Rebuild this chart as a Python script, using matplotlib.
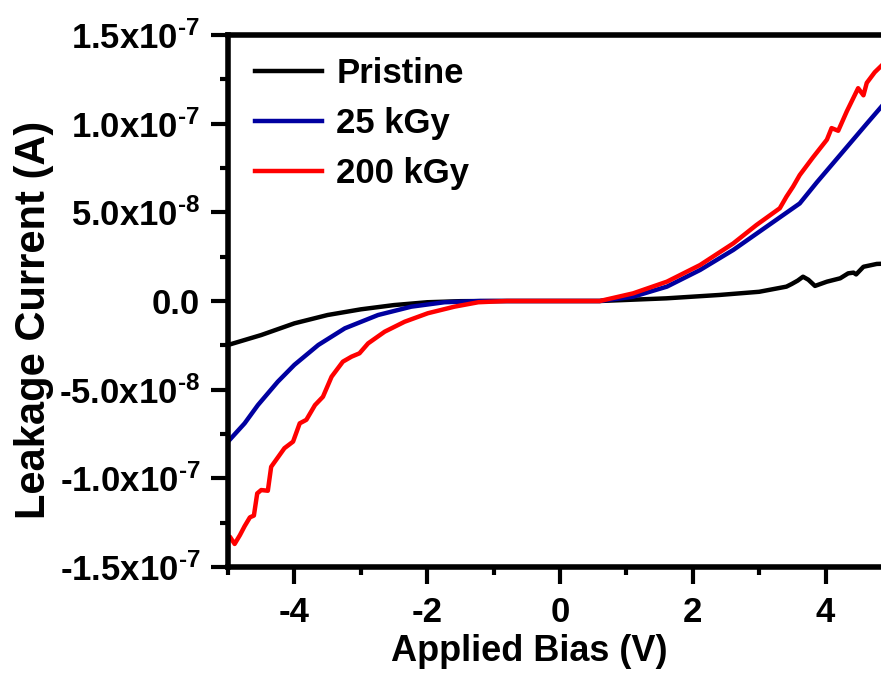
import numpy as np
import matplotlib
matplotlib.use('Agg')
import matplotlib.pyplot as plt
from matplotlib.ticker import MultipleLocator, FixedLocator, FixedFormatter

plt.rcParams['font.family'] = ['Liberation Sans', 'DejaVu Sans']
plt.rcParams['font.weight'] = 'bold'
plt.rcParams['mathtext.fontset'] = 'custom'
plt.rcParams['mathtext.rm'] = 'Liberation Sans:bold'
plt.rcParams['mathtext.bf'] = 'Liberation Sans:bold'
plt.rcParams['mathtext.default'] = 'bf'

# --- data (current in units of 1e-8 A) ---
v_pristine = [-5.0, -4.5, -4.0, -3.5, -3.0, -2.5, -2.0, -1.5, -1.0, 0.0, 0.6, 1.6,
              2.4, 3.0, 3.41, 3.49, 3.58, 3.66, 3.74, 3.84, 4.02, 4.22, 4.34, 4.42,
              4.46, 4.57, 4.77, 4.85]
i_pristine = [-2.48, -1.92, -1.26, -0.79, -0.47, -0.23, -0.07, -0.01, 0.0, 0.0, 0.0, 0.15,
              0.34, 0.52, 0.81, 0.96, 1.15, 1.37, 1.2, 0.85, 1.09, 1.28, 1.56, 1.6,
              1.5, 1.93, 2.09, 2.1]

v_25 = [-5.0, -4.75, -4.55, -4.25, -4.0, -3.64, -3.24, -2.74, -2.24, -1.74, -1.2, 0.0,
        0.6, 1.1, 1.61, 2.11, 2.61, 3.11, 3.61, 3.87, 4.12, 4.37, 4.62, 4.85]
i_25 = [-7.93, -6.9, -5.87, -4.55, -3.6, -2.48, -1.54, -0.79, -0.32, -0.07, 0.0, 0.0,
        0.0, 0.24, 0.81, 1.75, 2.88, 4.19, 5.5, 6.7, 7.8, 8.9, 10.0, 11.0]

v_200 = [-5.0, -4.97, -4.9, -4.82, -4.75, -4.67, -4.61, -4.56, -4.5, -4.4, -4.35, -4.27,
         -4.15, -4.02, -3.92, -3.82, -3.69, -3.57, -3.44, -3.27, -3.14, -3.02, -2.89,
         -2.64, -2.34, -1.99, -1.59, -1.23, -0.8, 0.0, 0.6, 1.1, 1.61, 2.11, 2.61, 2.96,
         3.31, 3.41, 3.51, 3.61, 3.81, 4.02, 4.09, 4.19, 4.32, 4.49, 4.57, 4.62, 4.74, 4.85]
i_200 = [-13.4, -13.3, -13.7, -13.2, -12.7, -12.2, -12.1, -10.85, -10.66, -10.7, -9.35, -8.93,
         -8.3, -7.93, -6.9, -6.7, -5.87, -5.4, -4.27, -3.42, -3.14, -2.95, -2.39,
         -1.73, -1.17, -0.69, -0.32, -0.07, 0.0, 0.0, 0.0, 0.43, 1.09, 2.03, 3.25, 4.29,
         5.23, 5.88, 6.45, 7.1, 8.1, 9.1, 9.75, 9.6, 10.7, 12.0, 11.6, 12.3, 12.9, 13.3]

series_names = ['Pristine', '25 kGy', '200 kGy']
series_colors = ['black', '#0000A0', '#FF0000']

ytick_vals = [-1.5e-7, -1.0e-7, -5.0e-8, 0.0, 5.0e-8, 1.0e-7, 1.5e-7]
ytick_labels = ['-1.5x10$^{\u20107}$', '-1.0x10$^{\u20107}$', '-5.0x10$^{\u20108}$', '0.0',
                '5.0x10$^{\u20108}$', '1.0x10$^{\u20107}$', '1.5x10$^{\u20107}$']
xtick_vals = [-4, -2, 0, 2, 4]
xtick_labels = ['-4', '-2', '0', '2', '4']

fig = plt.figure(figsize=(8.81, 6.77), dpi=100)
# axes runs past the right edge of the picture, like the cropped original
ax = fig.add_axes([228 / 881, 1 - 567 / 677, 664 / 881, 532 / 677])

for v, i, name, c in zip([v_pristine, v_25, v_200], [i_pristine, i_25, i_200],
                         series_names, series_colors):
    ax.plot(v, np.array(i) * 1e-8, color=c, lw=3.2, label=name)

ax.set_xlim(-5, 5)
ax.set_ylim(-1.5e-7, 1.5e-7)

ax.xaxis.set_major_locator(FixedLocator(xtick_vals))
ax.xaxis.set_major_formatter(FixedFormatter(xtick_labels))
ax.xaxis.set_minor_locator(FixedLocator([-5, -3, -1, 1, 3, 5]))
ax.yaxis.set_major_locator(FixedLocator(ytick_vals))
ax.yaxis.set_major_formatter(FixedFormatter(ytick_labels))
ax.yaxis.set_minor_locator(MultipleLocator(2.5e-8))

for s in ax.spines.values():
    s.set_linewidth(4)
ax.tick_params(which='major', direction='out', length=12, width=3)
ax.tick_params(which='minor', direction='out', length=6, width=3)
ax.tick_params(axis='y', which='major', labelsize=25, pad=8)
ax.tick_params(axis='x', which='major', labelsize=25, pad=9)

ax.set_xlabel('Applied Bias (V)', fontsize=26, fontweight='bold')
ax.xaxis.set_label_coords(0.454, -0.126)
ax.set_ylabel('Leakage Current (A)', fontsize=30, fontweight='bold')
ax.yaxis.set_label_coords(-0.262, 0.464)

leg = ax.legend(loc='upper left', bbox_to_anchor=(0.041, 0.958), frameon=False,
                fontsize=25, handlelength=1.93, handletextpad=0.4, labelspacing=0.49,
                borderpad=0, borderaxespad=0)
for t in leg.get_texts():
    t.set_fontweight('bold')
for h in leg.get_lines():
    h.set_linewidth(3.2)

fig.savefig('out.png', dpi=100)
